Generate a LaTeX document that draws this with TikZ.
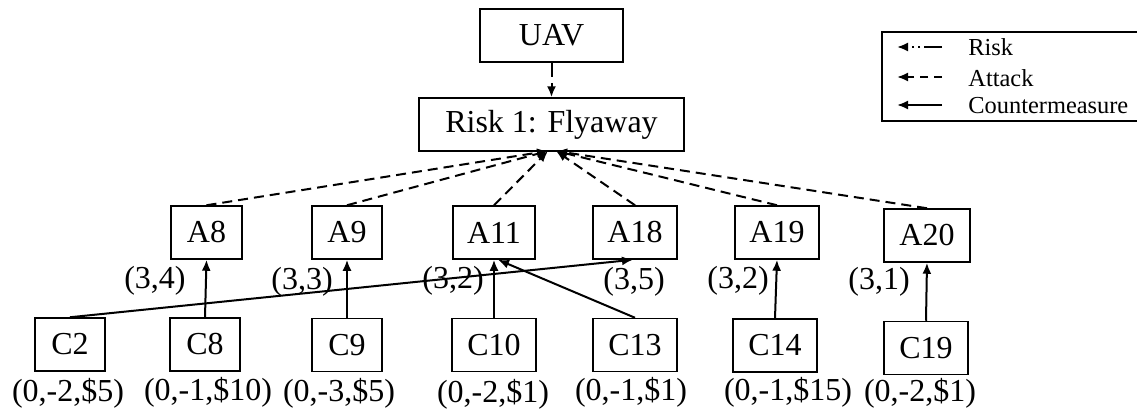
\documentclass[tikz,border=0pt]{standalone}
\usepackage{fontspec}
\setmainfont{Liberation Serif}
\usetikzlibrary{arrows.meta}
\begin{document}
\begin{tikzpicture}[x=0.5pt,y=-0.5pt,
  box/.style={draw,line width=0.75pt,inner sep=0pt,font=\fontsize{16}{18}\selectfont},
  score/.style={inner sep=0pt,font=\fontsize{16}{18}\selectfont},
  tip/.style={-{Latex[length=5.5pt,width=4.5pt]}},
  attack/.style={tip,line width=1pt,dash pattern=on 5pt off 3pt},
  counter/.style={tip,line width=1pt},
  risk/.style={tip,line width=1pt,dash pattern=on 9pt off 2pt on 1pt off 2pt on 1pt off 2pt},
  legtext/.style={anchor=west,inner sep=0pt,font=\fontsize{12.2}{14}\selectfont}]
\useasboundingbox (0,0) rectangle (1137,413);

% top of the tree
\node[box,minimum width=71.5pt,minimum height=26.5pt] (uav) at (551.5,35.5) {UAV};
\node[box,minimum width=132.5pt,minimum height=26.5pt] (r1) at (551.5,124.5) {Risk 1: Flyaway};
\draw[attack,dash pattern=on 7pt off 3pt] (uav) -- (r1);

% attacks
\node[box,minimum width=35.5pt,minimum height=26.5pt] (a8)  at (206.5,232.5) {A8};
\node[box,minimum width=35pt,minimum height=26.5pt]   (a9)  at (347,232.5) {A9};
\node[box,minimum width=41pt,minimum height=26.5pt]   (a11) at (494,232.5) {A11};
\node[box,minimum width=42pt,minimum height=26.5pt]   (a18) at (635,232.5) {A18};
\node[box,minimum width=42pt,minimum height=26.5pt]   (a19) at (777,232.5) {A19};
\node[box,minimum width=43pt,minimum height=26.5pt]   (a20) at (927,235.5) {A20};

\coordinate (rl) at (548,151);
\coordinate (rr) at (556,151);
\draw[attack] (a8.north)  -- (rl);
\draw[attack] (a9.north)  -- (rl);
\draw[attack] (a11.north) -- (rl);
\draw[attack] (a18.north) -- (rr);
\draw[attack] (a19.north) -- (rr);
\draw[attack] (a20.north) -- (rr);

% countermeasures
\node[box,minimum width=35pt,minimum height=26.5pt]   (c2)  at (70,344.5) {C2};
\node[box,minimum width=35pt,minimum height=26.5pt]   (c8)  at (205,344.5) {C8};
\node[box,minimum width=35pt,minimum height=26.5pt]   (c9)  at (347,345) {C9};
\node[box,minimum width=42pt,minimum height=26.5pt]   (c10) at (494,345) {C10};
\node[box,minimum width=42pt,minimum height=26.5pt]   (c13) at (635,345) {C13};
\node[box,minimum width=42pt,minimum height=26.5pt]   (c14) at (775,345.5) {C14};
\node[box,minimum width=42pt,minimum height=26.5pt]   (c19) at (926,348) {C19};

\draw[counter] (c8.north)  -- (a8.south);
\draw[counter] (c9.north)  -- (a9.south);
\draw[counter] (c10.north) -- (a11.south);
\draw[counter] (c13.north) -- ([xshift=2pt]a11.south);
\draw[counter] (c2.north)  -- ([xshift=-1pt]a18.south);
\draw[counter] (c14.north) -- (a19.south);
\draw[counter] (c19.north) -- (a20.south);

% attack scores
\node[score] (s8)  at (155,281) {(3,4)};
\node[score] (s9)  at (302,282) {(3,3)};
\node[score] (s11) at (453,281) {(3,2)};
\node[score] (s18) at (634,282) {(3,5)};
\node[score] (s19) at (738,281) {(3,2)};
\node[score] (s20) at (879,282) {(3,1)};

% countermeasure scores
\node[score] (t2)  at (68,393)  {(0,-2,\$5)};
\node[score] (t8)  at (208,392) {(0,-1,\$10)};
\node[score] (t9)  at (339,393) {(0,-3,\$5)};
\node[score] (t10) at (493,394) {(0,-2,\$1)};
\node[score] (t13) at (631,392) {(0,-1,\$1)};
\node[score] (t14) at (788,392) {(0,-1,\$15)};
\node[score] (t19) at (920,393) {(0,-2,\$1)};

% legend
\draw[line width=1.2pt] (882,32) rectangle (1142,121);
\coordinate (lr1) at (942,47);  \coordinate (ll1) at (897,47);
\coordinate (lr2) at (942,77);  \coordinate (ll2) at (897,77);
\coordinate (lr3) at (942,105); \coordinate (ll3) at (897,105);
\draw[risk] (lr1) -- (ll1);
\draw[attack,dash pattern=on 4pt off 3pt] (lr2) -- (ll2);
\draw[counter] (lr3) -- (ll3);
\node[legtext] (k1) at (968,47)  {Risk};
\node[legtext] (k2) at (968,78)  {Attack};
\node[legtext] (k3) at (968,106) {Countermeasure};
\end{tikzpicture}
\end{document}
